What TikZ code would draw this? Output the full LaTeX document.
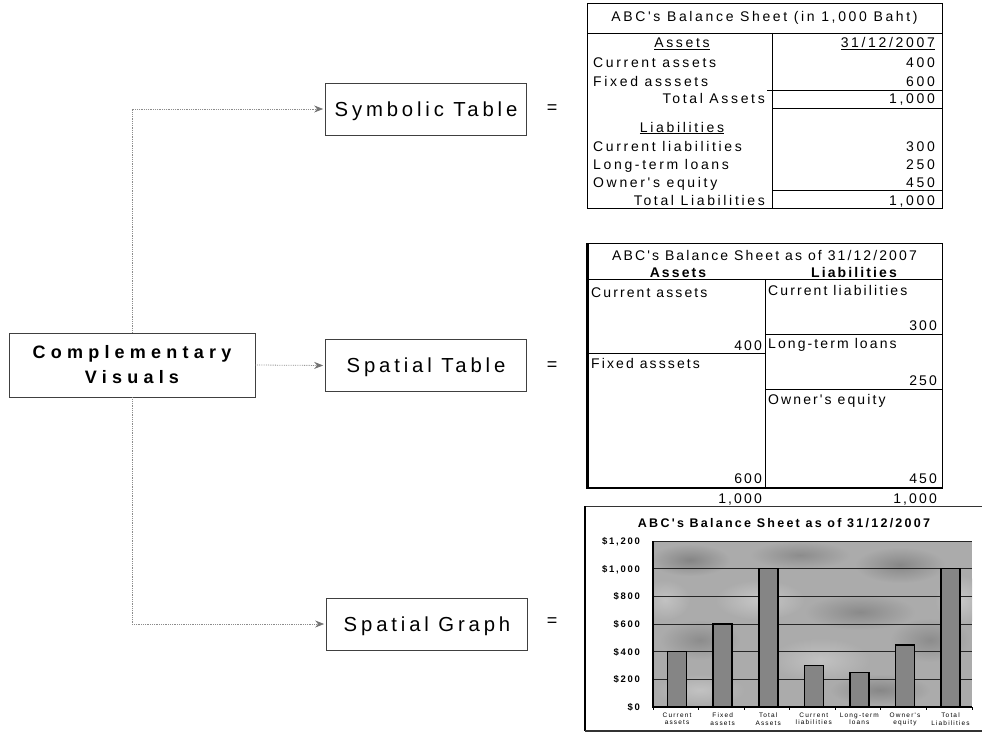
\documentclass[tikz,border=0pt]{standalone}
\usepackage{fontspec}
\setmainfont{Liberation Sans}
\newfontfamily\boxfont[LetterSpace=19]{Liberation Sans}
\newfontfamily\headfont[LetterSpace=29]{Liberation Sans}
\newfontfamily\tabfont[LetterSpace=19]{Liberation Sans}
\newfontfamily\tabbfont[LetterSpace=15]{Liberation Sans}
\newfontfamily\chartfont[LetterSpace=18]{Liberation Sans}
\usetikzlibrary{arrows.meta}

\begin{document}
\begin{tikzpicture}[x=1pt,y=-1pt]
\useasboundingbox (0,0) rectangle (982,733);
\tikzset{
  catbox/.style={draw=black!75, line width=0.7pt, minimum width=201pt,
    minimum height=52pt, inner sep=0pt, text height=14.5pt, text depth=0pt,
    font=\boxfont\fontsize{20.3}{24}\selectfont},
  headbox/.style={draw=black!75, line width=0.7pt, minimum width=246pt,
    minimum height=64pt, inner sep=0pt, align=center,
    font=\headfont\bfseries\fontsize{18}{25}\selectfont},
  conn/.style={draw=black!45, densely dotted, line width=0.8pt,
    -{Stealth[length=9pt,width=7pt,color=black!55]}, shorten >=2pt},
  eqsign/.style={inner sep=0pt, font=\fontsize{18}{20}\selectfont},
  tline/.style={draw=black, line width=0.8pt},
  cell/.style={inner sep=0pt, text height=10pt, text depth=0pt,
    font=\tabfont\fontsize{14}{16}\selectfont},
  lc/.style={cell, anchor=west},
  rc/.style={cell, anchor=east},
  cc/.style={cell, anchor=center},
  cellb/.style={inner sep=0pt, text height=10pt, text depth=0pt,
    font=\tabbfont\fontsize{14}{16}\selectfont},
  lb/.style={cellb, anchor=west},
  rb/.style={cellb, anchor=east},
  cb/.style={cellb, anchor=center},
  ylab/.style={inner sep=0pt, anchor=east, text height=6.8pt, text depth=0pt,
    font=\chartfont\bfseries\fontsize{9.5}{11}\selectfont},
  xlab/.style={inner sep=0pt, anchor=north, align=center,
    font=\chartfont\fontsize{6.5}{7.6}\selectfont},
  bar/.style={draw=black, line width=1.6pt, fill=black!48},
  grid/.style={draw=black!85, line width=0.8pt}
}

% ---------- concept boxes ----------
\node[headbox] (cv) at (132,365) {Complementary\\Visuals};
\node[catbox] (st) at (426,109) {Symbolic Table};
\node[catbox] (sp) at (426,365.5) {Spatial Table};
\node[catbox] (sg) at (427,624) {Spatial Graph};

\draw[conn] (cv.north) |- (st.west);
\draw[conn] (cv.east) -- (sp.west);
\draw[conn] (cv.south) |- (sg.west);

\node[eqsign] (eq1) at (552,109) {=};
\node[eqsign] (eq2) at (552,366) {=};
\node[eqsign] (eq3) at (552,622) {=};

% ---------- symbolic table ----------
\draw[tline] (587,3) rectangle (942,208);
\draw[tline] (587,33) -- (942,33);
\draw[tline] (772,33) -- (772,208);
\draw[tline] (767,90) -- (942,90);
\draw[tline] (772,108) -- (942,108);
\draw[tline] (772,190) -- (942,190);

\node[cc] (t1title) at (764.5,17) {ABC's Balance Sheet (in 1,000 Baht)};
\node[cc] (t1ah) at (682,43) {\underline{Assets}};
\node[rc] (t1dh) at (935,43) {\underline{31/12/2007}};
\node[lc] (t1ca) at (593,63) {Current assets};
\node[rc] (t1cav) at (935,63) {400};
\node[lc] (t1fa) at (593,82) {Fixed asssets};
\node[rc] (t1fav) at (935,82) {600};
\node[rc] (t1ta) at (765,99) {Total Assets};
\node[rc] (t1tav) at (935,99) {1,000};
\node[cc] (t1lh) at (682,127) {\underline{Liabilities}};
\node[lc] (t1cl) at (593,146) {Current liabilities};
\node[rc] (t1clv) at (935,146) {300};
\node[lc] (t1lt) at (593,164) {Long-term loans};
\node[rc] (t1ltv) at (935,164) {250};
\node[lc] (t1oe) at (593,182) {Owner's equity};
\node[rc] (t1oev) at (935,182) {450};
\node[rc] (t1tl) at (765,200) {Total Liabilities};
\node[rc] (t1tlv) at (935,200) {1,000};

% ---------- spatial table ----------
\draw[tline] (587,243) rectangle (942,488);
\draw[draw=black, line width=2.4pt] (587.5,243) -- (587.5,488.5);
\draw[draw=black, line width=1.6pt] (587,488) -- (942,488);
\draw[tline] (587,279) -- (942,279);
\draw[tline] (765,279) -- (765,488);
\draw[tline] (587,353) -- (765,353);
\draw[tline] (765,334) -- (942,334);
\draw[tline] (765,389) -- (942,389);

\node[cb] (t2title) at (764.5,255) {ABC's Balance Sheet as of 31/12/2007};
\node[cb, font=\tabbfont\bfseries\fontsize{14}{16}\selectfont] (t2ah) at (678,272) {Assets};
\node[cb, font=\tabbfont\bfseries\fontsize{14}{16}\selectfont] (t2lh) at (854,272) {Liabilities};
\node[lb] (t2ca) at (591,292) {Current assets};
\node[rb] (t2cav) at (762,345) {400};
\node[lb] (t2fa) at (591,363) {Fixed asssets};
\node[rb] (t2fav) at (762,478) {600};
\node[lb] (t2cl) at (768,290) {Current liabilities};
\node[rb] (t2clv) at (937,325) {300};
\node[lb] (t2lt) at (768,343) {Long-term loans};
\node[rb] (t2ltv) at (937,380) {250};
\node[lb] (t2oe) at (768,399) {Owner's equity};
\node[rb] (t2oev) at (937,478) {450};
\node[rb] (t2at) at (762,498) {1,000};
\node[rb] (t2lt2) at (937,498) {1,000};

% ---------- spatial graph ----------
\draw[draw=black!80, line width=0.8pt] (982,506) -- (585,506);
\draw[draw=black, line width=2pt] (585,506) -- (585,731);
\draw[draw=black!80, line width=1.2pt] (585,731) -- (982,731);

\node[inner sep=0pt, text height=9pt, text depth=0pt,
      font=\chartfont\bfseries\fontsize{12.5}{14}\selectfont] (gtitle) at (784,523)
  {ABC's Balance Sheet as of 31/12/2007};

% plot area with a mottled grey backdrop
\begin{scope}
  \clip (653,541) rectangle (972,707);
  \fill[black!33] (653,541) rectangle (972,707);
  \foreach \cx/\cy/\rx/\ry/\c in {
      690/560/40/16/black!48, 800/555/50/14/black!45, 900/565/45/18/black!47,
      760/600/45/20/black!22, 860/612/55/18/black!46, 700/640/40/20/black!45,
      820/660/50/22/black!24, 930/640/40/22/black!45, 700/690/45/16/black!24,
      880/690/50/16/black!47, 960/600/25/25/black!22, 665/600/25/20/black!24}
    \shade[inner color=\c, outer color=black!33] (\cx,\cy) ellipse ({\rx} and {\ry});
\end{scope}

% grid lines and value labels
\foreach \v/\lab in {0/\$0, 200/\$200, 400/\$400, 600/\$600, 800/\$800,
                     1000/{\$1,000}, 1200/{\$1,200}} {
  \draw[grid] (653,{707-\v*0.13833}) -- (972,{707-\v*0.13833});
  \node[ylab] (y\v) at (640,{707-\v*0.13833}) {\lab};
}
\draw[draw=black, line width=1.2pt] (653,541) -- (653,707) -- (972,707);
\foreach \i in {0,...,7}
  \draw[draw=black, line width=0.8pt] ({653+\i*45.57},707) -- ({653+\i*45.57},710);

% bars and category labels
\foreach \i/\v/\lab in {1/400/{Current\\assets}, 2/600/{Fixed\\assets},
    3/1000/{Total\\Assets}, 4/300/{Current\\liabilities},
    5/250/{Long-term\\loans}, 6/450/{Owner's\\equity},
    7/1000/{Total\\Liabilities}} {
  \pgfmathsetmacro{\bx}{653+(\i-0.5)*45.57+1.3}
  \draw[bar] ({\bx-9.5},707) rectangle ({\bx+9.5},{707-\v*0.13833});
  \node[xlab] (x\i) at (\bx,712.5) {\lab};
}
\end{tikzpicture}
\end{document}
